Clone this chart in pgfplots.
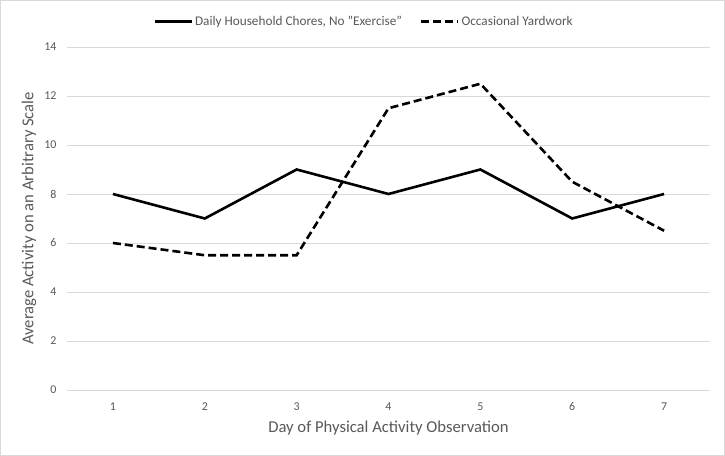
\documentclass[border=0pt]{standalone}
\usepackage{pgfplots}
\pgfplotsset{compat=1.18}
\usepackage{fontspec}
\setmainfont{Carlito}
\definecolor{txt}{HTML}{595959}
\definecolor{gridc}{HTML}{D9D9D9}
\begin{document}
\begin{tikzpicture}[x=1bp,y=1bp]
\draw[gridc, line width=0.75bp, fill=white] (0.5,0.5) rectangle (724.5,455.5);
\path[use as bounding box] (0,0) rectangle (725,456);
\begin{axis}[
  at={(67bp,66bp)}, anchor=south west,
  scale only axis, width=643bp, height=343bp,
  xmin=0.5, xmax=7.5, ymin=0, ymax=14,
  xtick={1,...,7}, ytick={0,2,...,14},
  axis line style={draw=none},
  xmajorgrids=false, ymajorgrids=true,
  y grid style={gridc, line width=0.75bp},
  tick style={draw=none},
  ticklabel style={font=\fontsize{12}{13}\selectfont, text=txt},
  xticklabel style={yshift=-9bp},
  yticklabel style={xshift=-7bp},
  /pgf/number format/assume math mode=true,
  xlabel={Day of Physical Activity Observation},
  ylabel={Average Activity on an Arbitrary Scale},
  label style={font=\fontsize{16.7}{18}\selectfont, text=txt},
  xlabel style={at={(axis description cs:0.5,0)}, anchor=center, yshift=-38bp},
  ylabel style={at={(axis description cs:0,0.5)}, anchor=center, yshift=38bp},
  legend style={at={(0.462,1.0)}, yshift=35bp, anchor=north, draw=none, fill=none,
    font=\fontsize{13.3}{14}\selectfont, text=txt, legend columns=2,
    /tikz/every even column/.append style={column sep=16bp}},
  legend image code/.code={\draw[#1] (0bp,0bp) -- (37bp,0bp);},
]
\addplot[black, line width=2.6bp] coordinates {(1,8) (2,7) (3,9) (4,8) (5,9) (6,7) (7,8)};
\addlegendentry{Daily Household Chores, No "Exercise"}
\addplot[black, line width=2.6bp, dash pattern=on 8bp off 4bp] coordinates {(1,6) (2,5.5) (3,5.5) (4,11.5) (5,12.5) (6,8.5) (7,6.5)};
\addlegendentry{Occasional Yardwork}
\end{axis}
\end{tikzpicture}
\end{document}
